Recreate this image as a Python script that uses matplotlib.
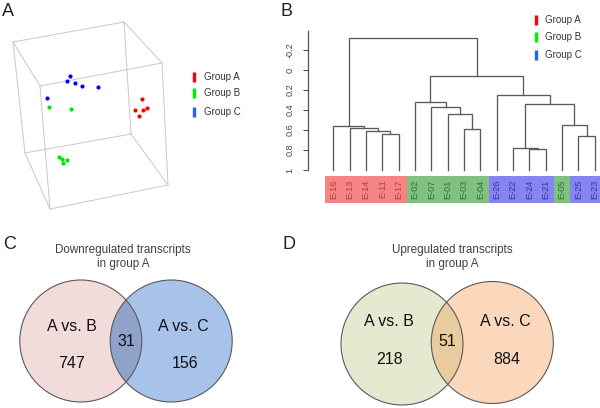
import matplotlib
matplotlib.use("Agg")
import matplotlib.pyplot as plt
from matplotlib.patches import Circle, Rectangle

plt.rcParams['font.family'] = ['Liberation Sans', 'DejaVu Sans']

W, H = 600, 408

# ---------------- data ----------------
# Panel A: projected PCA positions (screen units of the 3D view)
groupA_x = [142.0, 134.7, 142.7, 146.7, 138.7]
groupA_y = [99.0, 110.0, 110.0, 108.0, 116.0]
groupB_x = [49.3, 70.7, 59.3, 62.0, 66.7, 63.3]
groupB_y = [107.0, 109.0, 157.3, 158.7, 160.3, 162.7]
groupC_x = [70.3, 66.7, 75.0, 82.0, 98.0, 47.0]
groupC_y = [76.0, 81.0, 82.7, 86.0, 87.3, 98.3]
group_names = ["Group A", "Group B", "Group C"]

# Panel B: dendrogram
leaf_labels = ["E-16", "E-13", "E-14", "E-11", "E-17", "E-02", "E-07", "E-01",
               "E-03", "E-04", "E-26", "E-22", "E-24", "E-21", "E-05", "E-25", "E-23"]
leaf_groups = ["A", "A", "A", "A", "A", "B", "B", "B", "B", "B",
               "C", "C", "C", "C", "B", "C", "C"]
merge_left = [3, 2, 1, 0, 8, 7, 6, 5, 12, 11, 15, 14, 26, 10, 24, 20]
merge_right = [4, 17, 18, 19, 9, 21, 22, 23, 13, 25, 16, 27, 28, 29, 30, 31]
merge_height = [0.643, 0.61, 0.577, 0.56, 0.593, 0.443, 0.373, 0.323,
                0.793, 0.777, 0.657, 0.55, 0.343, 0.25, 0.06, -0.323]
leaf_height = 1.0
yticks_B = [-0.2, 0, 0.2, 0.4, 0.6, 0.8, 1]
ytick_labels_B = ["-0.2", "0", "0.2", "0.4", "0.6", "0.8", "1"]

# Panels C / D: Venn counts
set_labels = ["A vs. B", "A vs. C"]
down_counts = [747, 31, 156]   # only A vs B, both, only A vs C
up_counts = [218, 51, 884]

# ---------------- figure ----------------
fig = plt.figure(figsize=(W / 100, H / 100), dpi=100)


def px_axes(x0, y0, x1, y1):
    return fig.add_axes([x0 / W, 1 - y1 / H, (x1 - x0) / W, (y1 - y0) / H])


# ---------------- Panel B (dendrogram) ----------------
leaf_x0, leaf_dx = 333.3, 16.34
axB = px_axes(300, 28, 600, 205)
axB.set_xlim((300 - leaf_x0) / leaf_dx, (600 - leaf_x0) / leaf_dx)
axB.set_ylim(1.35, -0.42)
for s in ["top", "right", "bottom"]:
    axB.spines[s].set_visible(False)
axB.spines["left"].set_position(("data", (308 - leaf_x0) / leaf_dx))
axB.spines["left"].set_bounds(1.0, -0.39)
axB.spines["left"].set_color("#555555")
axB.spines["left"].set_linewidth(0.9)
axB.set_xticks([])
axB.set_yticks(yticks_B)
axB.set_yticklabels(ytick_labels_B, rotation=90, va="center", fontsize=6.6, color="#444444")
axB.tick_params(axis="y", length=3.6, width=0.8, color="#555555", pad=6)

n = len(leaf_labels)
node_x = {i: float(i) for i in range(n)}
node_h = {i: leaf_height for i in range(n)}
dcol = "#5a5a5a"
for k, (a, b, h) in enumerate(zip(merge_left, merge_right, merge_height)):
    xa, xb = node_x[a], node_x[b]
    axB.plot([xa, xa, xb, xb], [node_h[a], h, h, node_h[b]], color=dcol, lw=0.95,
             solid_joinstyle="miter")
    node_x[n + k] = (xa + xb) / 2
    node_h[n + k] = h

box_col = {"A": "#f58585", "B": "#80c080", "C": "#8585f2"}
txt_col = {"A": "#b83a3a", "B": "#2f6f2f", "C": "#2f2fb0"}
for i, (lab, g) in enumerate(zip(leaf_labels, leaf_groups)):
    axB.add_patch(Rectangle((i - 0.5, 1.057), 1.0, 0.27, facecolor=box_col[g],
                            edgecolor="none"))
    axB.text(i, 1.19, lab, rotation=90, ha="center", va="center", fontsize=6.6,
             color=txt_col[g])

# ---------------- overlay (A, legends, labels, Venns) ----------------
ov = px_axes(0, 0, W, H)
ov.set_xlim(0, W)
ov.set_ylim(H, 0)
ov.axis("off")

# Panel A box
P = {"btl": (13, 42), "btr": (124, 22), "ftl": (40, 86), "ftr": (162, 63),
     "bbl": (25, 153), "bbr": (131, 134), "fbl": (50, 209), "fbr": (168, 185)}
edges = [("btl", "btr"), ("btl", "ftl"), ("btr", "ftr"), ("ftl", "ftr"),
         ("btl", "bbl"), ("ftl", "fbl"), ("btr", "bbr"), ("ftr", "fbr"),
         ("bbl", "bbr"), ("bbl", "fbl"), ("bbr", "fbr"), ("fbl", "fbr")]
for a, b in edges:
    ov.plot([P[a][0], P[b][0]], [P[a][1], P[b][1]], color="#c8c8c8", lw=0.7)

ov.plot(groupA_x, groupA_y, "o", color="#ff0000", ms=3.0, mec="none")
ov.plot(groupB_x, groupB_y, "o", color="#00e600", ms=3.0, mec="none")
ov.plot(groupC_x, groupC_y, "o", color="#0000ff", ms=3.0, mec="none")

leg_cols = ["#ff0000", "#00ee00", "#1a66ff"]
for name, c, y in zip(group_names, leg_cols, [77, 93, 112]):
    ov.plot([194, 194], [y - 5.3, y + 5.3], color=c, lw=2.4, solid_capstyle="butt")
    ov.text(204, y, name, ha="left", va="center", fontsize=7, color="#333333")

for name, c, y in zip(group_names, leg_cols, [20, 37.3, 55]):
    ov.plot([535.7, 535.7], [y - 5, y + 5], color=c, lw=2.4, solid_capstyle="butt")
    ov.text(545, y, name, ha="left", va="center", fontsize=7, color="#333333")

# panel letters
for lab, x, y in [("A", 2, 12), ("B", 280, 12), ("C", 3, 244.5), ("D", 282, 244.5)]:
    ov.text(x, y, lab, ha="left", va="center", fontsize=13, color="#222222")


def venn(cx1, cy1, cx2, cy2, r, c1, c2, cint, counts, title, tx, ty,
         lab_pos, num_pos, mid_pos):
    left = Circle((cx1, cy1), r, facecolor=c1, edgecolor="none", zorder=2)
    right = Circle((cx2, cy2), r, facecolor=c2, edgecolor="none", zorder=2)
    ov.add_patch(left)
    ov.add_patch(right)
    inter = Circle((cx2, cy2), r, facecolor=cint, edgecolor="none", zorder=3)
    ov.add_patch(inter)
    inter.set_clip_path(left)
    for cx, cy in [(cx1, cy1), (cx2, cy2)]:
        ov.add_patch(Circle((cx, cy), r, facecolor="none", edgecolor="#5a5a5a",
                            lw=0.8, zorder=4))
    ov.text(tx, ty, title, ha="center", va="center", fontsize=8.4,
            color="#404040", linespacing=1.25, zorder=5)
    for s, (x, y) in zip(set_labels, lab_pos):
        ov.text(x, y, s, ha="center", va="center", fontsize=11.5, color="#111111", zorder=5)
    for v, (x, y) in zip([counts[0], counts[2]], num_pos):
        ov.text(x, y, str(v), ha="center", va="center", fontsize=11.5, color="#111111", zorder=5)
    ov.text(mid_pos[0], mid_pos[1], str(counts[1]), ha="center", va="center",
            fontsize=11.5, color="#111111", zorder=5)


venn(80.8, 341, 171.2, 341, 61, "#f2dcdb", "#a7c3e9", "#8fa2c9", down_counts,
     "Downregulated transcripts\nin group A", 123.3, 256.7,
     [(71.7, 326.7), (183.3, 326.7)], [(71.7, 363.3), (185, 363.3)], (126.7, 341.7))
venn(402, 344, 492.3, 342.5, 61, "#e3eacf", "#fbd8bc", "#e8cb9f", up_counts,
     "Upregulated transcripts\nin group A", 452.3, 256.7,
     [(389.3, 321.7), (505, 321.7)], [(389.3, 359.3), (506.7, 360)], (447.3, 341.7))

fig.savefig("out.png", dpi=100)
